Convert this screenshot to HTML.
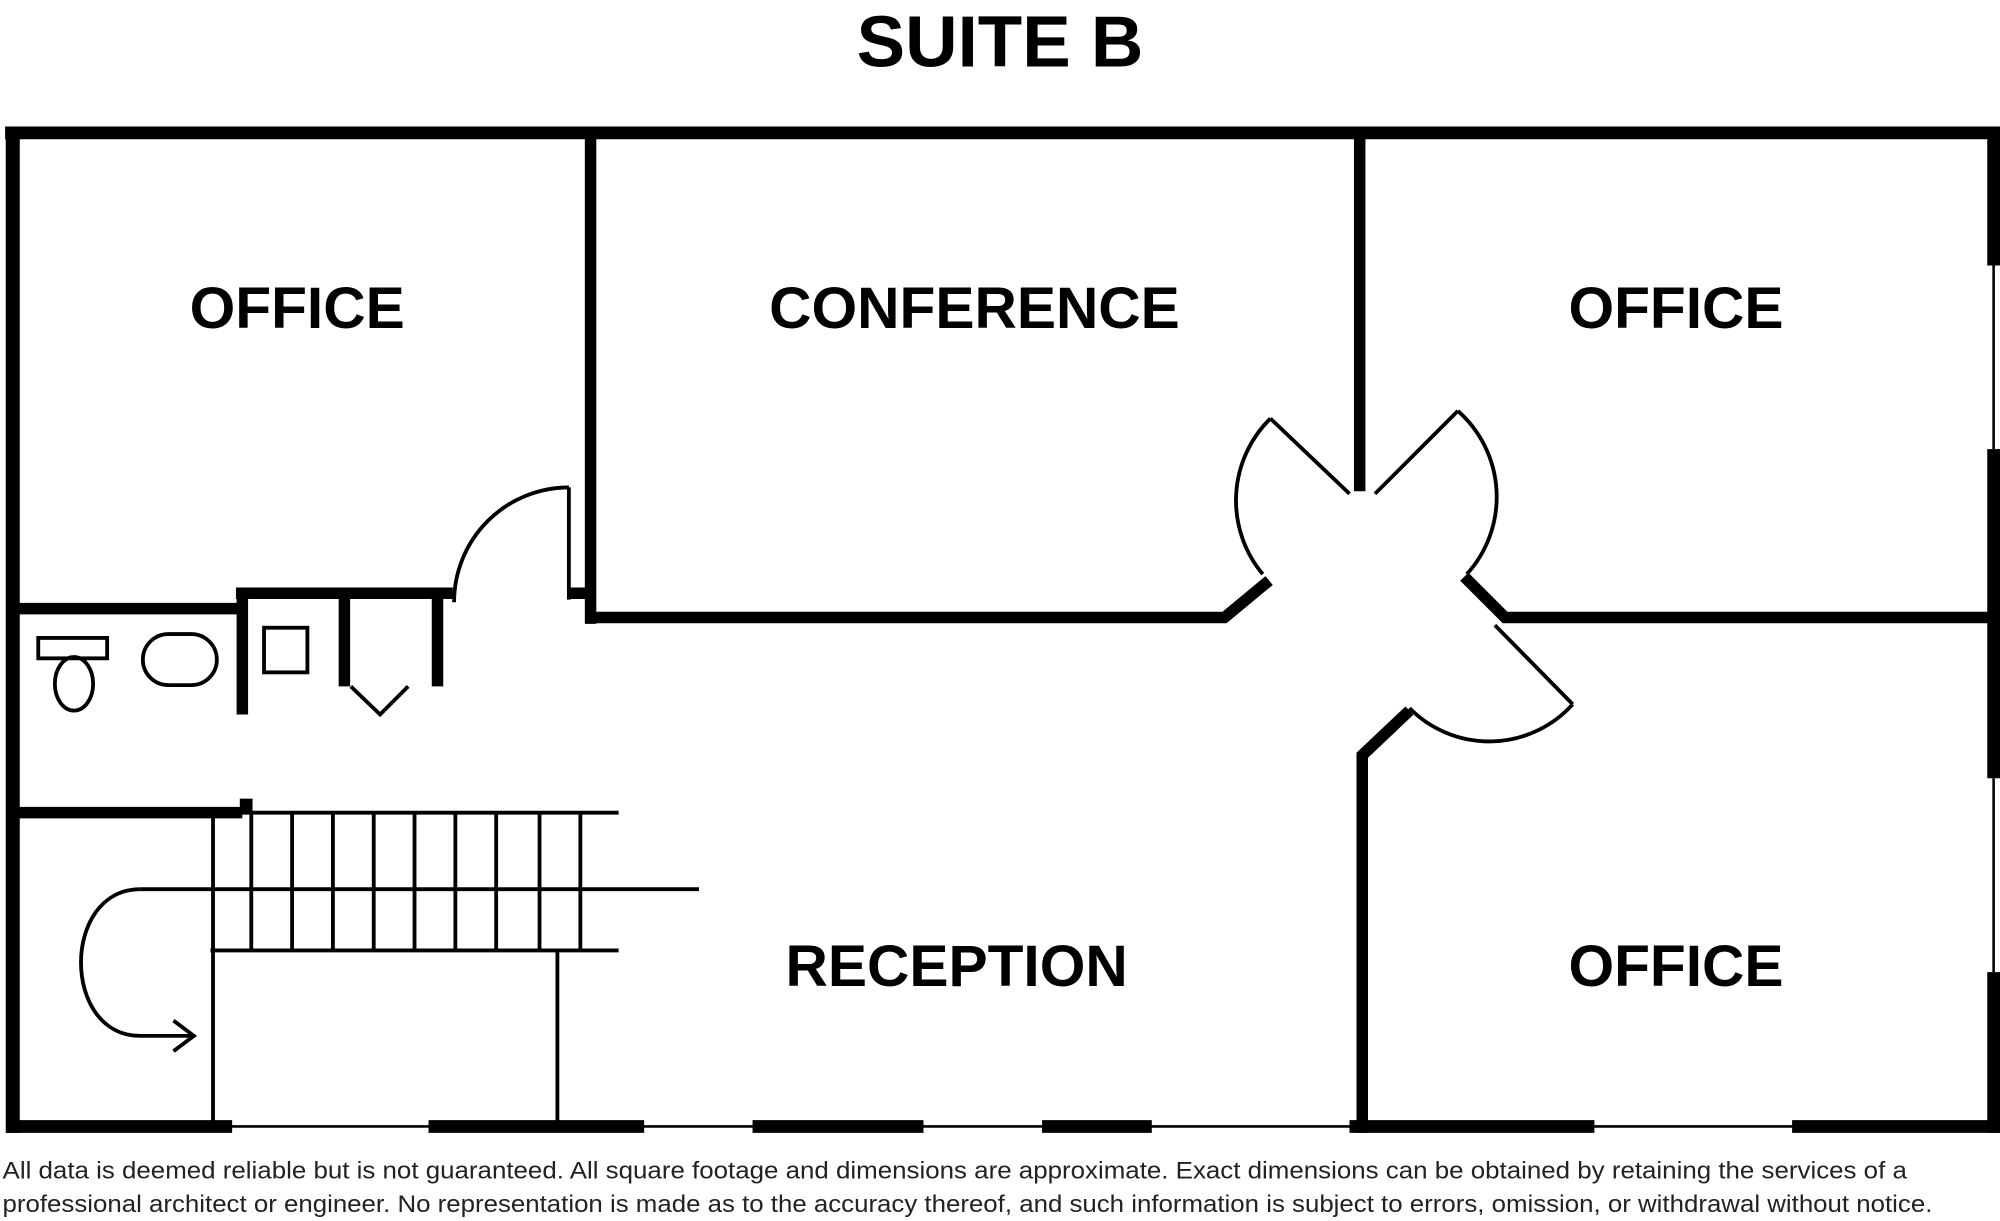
<!DOCTYPE html>
<html><head><meta charset="utf-8"><style>
html,body{margin:0;padding:0;background:#fff;}
svg{display:block;}
text{font-family:"Liberation Sans",Arial,sans-serif;}
</style></head><body>
<svg width="2000" height="1221" viewBox="0 0 1568 957" xmlns="http://www.w3.org/2000/svg">
<rect width="1568" height="957" fill="#fff"/>
<text x="784" y="52" text-anchor="middle" font-size="57" font-weight="bold">SUITE B</text>
<g stroke="#000" fill="none" stroke-linecap="butt">
<line x1="4" y1="104" x2="1568" y2="104" stroke-width="10"/>
<line x1="10" y1="100" x2="10" y2="888" stroke-width="11"/>
<line x1="10" y1="883" x2="1568" y2="883" stroke-width="2"/>
<g stroke-width="10">
<line x1="5" y1="883" x2="182" y2="883"/>
<line x1="336" y1="883" x2="505" y2="883"/>
<line x1="590" y1="883" x2="724" y2="883"/>
<line x1="817" y1="883" x2="903" y2="883"/>
<line x1="1058" y1="883" x2="1250" y2="883"/>
<line x1="1405" y1="883" x2="1568" y2="883"/>
<line x1="1563" y1="100" x2="1563" y2="208"/>
<line x1="1563" y1="352" x2="1563" y2="610"/>
<line x1="1563" y1="762" x2="1563" y2="888"/>
</g>
<line x1="1563" y1="208" x2="1563" y2="352" stroke-width="2"/>
<line x1="1563" y1="610" x2="1563" y2="762" stroke-width="2"/>
<g stroke-width="9">
<line x1="463" y1="104" x2="463" y2="489"/>
<polyline points="459,484 960,484 995,455"/>
<line x1="1066" y1="104" x2="1066" y2="385"/>
<polyline points="1148,452 1180,484 1568,484"/>
<polyline points="1105,557 1068,592 1068,888"/>
<line x1="10" y1="477" x2="190" y2="477"/>
<line x1="185" y1="465" x2="355" y2="465"/>
<line x1="190" y1="465" x2="190" y2="560"/>
<line x1="270" y1="465" x2="270" y2="538"/>
<line x1="343" y1="465" x2="343" y2="538"/>
<line x1="446" y1="465" x2="463" y2="465"/>
<line x1="10" y1="637" x2="190" y2="637"/>
</g>
<rect x="188" y="626" width="10" height="12" fill="#000" stroke="none"/>
<g stroke-width="3">
<polyline points="1058,387 996,328"/>
<path d="M996,328 A90,90 0 0 0 990,450"/>
<polyline points="1078,387 1143,322"/>
<path d="M1143,322 A90,90 0 0 1 1150,450"/>
<line x1="1172" y1="490" x2="1233" y2="552"/>
<path d="M1233,552 A88,88 0 0 1 1105,555"/>
<line x1="446" y1="382" x2="446" y2="470"/>
<path d="M446,382 A90,90 0 0 0 356,472"/>
<polyline points="275,538 298,560 320,538"/>
<rect x="30" y="500" width="54" height="16"/>
<ellipse cx="58" cy="536" rx="15" ry="21"/>
<rect x="112" y="497" width="58" height="40" rx="20"/>
<rect x="207" y="492" width="34" height="35"/>
<line x1="165" y1="637" x2="485" y2="637"/>
<line x1="165" y1="745" x2="485" y2="745"/>
<line x1="110" y1="697" x2="548" y2="697"/>
<line x1="167" y1="640" x2="167" y2="883"/>
<line x1="437" y1="745" x2="437" y2="883"/>
<line x1="197" y1="637" x2="197" y2="745"/>
<line x1="229" y1="637" x2="229" y2="745"/>
<line x1="261" y1="637" x2="261" y2="745"/>
<line x1="293" y1="637" x2="293" y2="745"/>
<line x1="325" y1="637" x2="325" y2="745"/>
<line x1="357" y1="637" x2="357" y2="745"/>
<line x1="389" y1="637" x2="389" y2="745"/>
<line x1="423" y1="637" x2="423" y2="745"/>
<line x1="455" y1="637" x2="455" y2="745"/>
<path d="M110,697 C48,697 48,812 110,812 L152,812"/>
<polyline points="136,800 152,812 136,824"/>
</g>
</g>
<g font-size="46" font-weight="bold" text-anchor="middle">
<text x="233" y="257">OFFICE</text>
<text x="764" y="257">CONFERENCE</text>
<text x="1314" y="257">OFFICE</text>
<text x="750" y="773">RECEPTION</text>
<text x="1314" y="773">OFFICE</text>
</g>
<g font-size="18.5" fill="#222">
<text x="2" y="924" textLength="1493" lengthAdjust="spacingAndGlyphs">All data is deemed reliable but is not guaranteed.  All square footage and dimensions are approximate. Exact dimensions can be obtained by retaining the services of a</text>
<text x="2" y="950" textLength="1513" lengthAdjust="spacingAndGlyphs">professional architect or engineer. No representation is made as to the accuracy thereof, and such information is subject to errors, omission, or withdrawal without notice.</text>
</g>
</svg>
</body></html>
